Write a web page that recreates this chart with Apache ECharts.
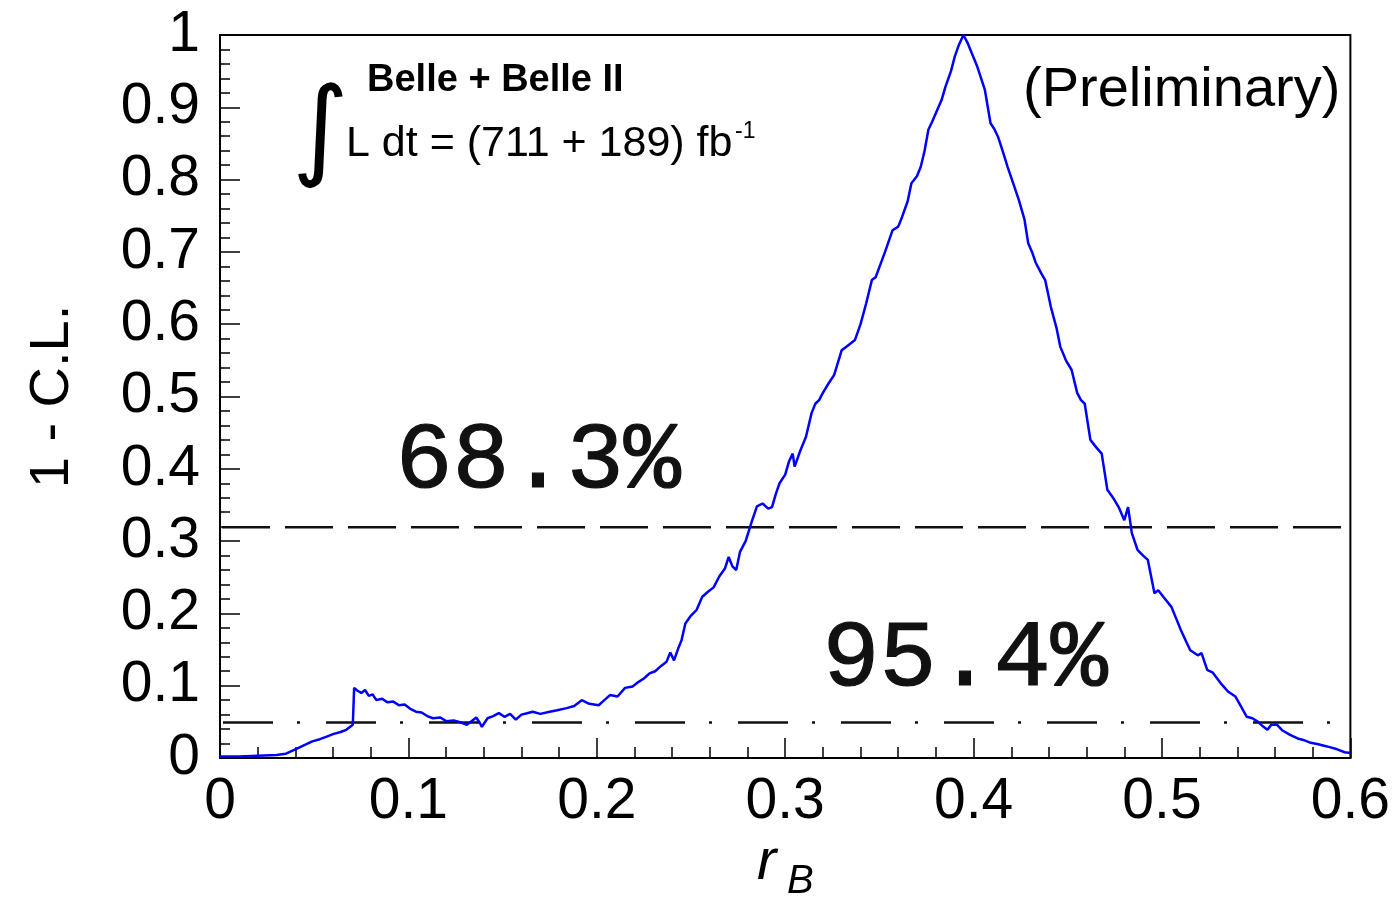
<!DOCTYPE html>
<html>
<head>
<meta charset="utf-8">
<script src="https://cdn.jsdelivr.net/npm/echarts@6/dist/echarts.min.js"></script>
<style>
  html, body { margin: 0; padding: 0; background: #fff; }
  #chart { width: 1393px; height: 902px; }
</style>
</head>
<body>
<div id="chart"></div>
<script>
// r_B scan points and the 1 - C.L. value at each of them
const rB = [
  0.000, 0.010, 0.020, 0.030, 0.035, 0.040, 0.045, 0.049, 0.053, 0.057,
  0.060, 0.064, 0.067, 0.0705, 0.0712, 0.073, 0.075, 0.077, 0.079, 0.081,
  0.083, 0.086, 0.089, 0.092, 0.095, 0.098, 0.101, 0.104, 0.107, 0.110,
  0.113, 0.117, 0.120, 0.124, 0.127, 0.131, 0.134, 0.136, 0.138, 0.139,
  0.142, 0.145, 0.148, 0.151, 0.154, 0.157, 0.160, 0.163, 0.166, 0.170,
  0.175, 0.179, 0.184, 0.188, 0.192, 0.196, 0.201, 0.204, 0.207, 0.211,
  0.215, 0.219, 0.222, 0.225, 0.228, 0.231, 0.234, 0.237, 0.239, 0.241,
  0.243, 0.245, 0.247, 0.250, 0.253, 0.256, 0.259, 0.262, 0.265, 0.268,
  0.270, 0.272, 0.274, 0.276, 0.279, 0.282, 0.285, 0.288, 0.291, 0.293,
  0.295, 0.297, 0.300, 0.302, 0.304, 0.305, 0.308, 0.311, 0.314, 0.316,
  0.318, 0.320, 0.323, 0.326, 0.330, 0.333, 0.337, 0.340, 0.343, 0.346,
  0.348, 0.350, 0.353, 0.357, 0.360, 0.362, 0.365, 0.367, 0.370, 0.372,
  0.374, 0.376, 0.378, 0.380, 0.383, 0.385, 0.388, 0.390, 0.392, 0.3946,
  0.397, 0.399, 0.402, 0.404, 0.406, 0.409, 0.411, 0.413, 0.416, 0.418,
  0.421, 0.424, 0.427, 0.429, 0.431, 0.433, 0.436, 0.438, 0.441, 0.444,
  0.446, 0.449, 0.452, 0.455, 0.457, 0.459, 0.462, 0.465, 0.468, 0.471,
  0.474, 0.477, 0.480, 0.482, 0.484, 0.487, 0.490, 0.4925, 0.496, 0.498,
  0.501, 0.505, 0.508, 0.510, 0.513, 0.515, 0.519, 0.521, 0.524, 0.527,
  0.531, 0.535, 0.539, 0.542, 0.545, 0.548, 0.551, 0.553, 0.556, 0.558,
  0.561, 0.564, 0.568, 0.572, 0.575, 0.579, 0.583, 0.586, 0.589, 0.593,
  0.597, 0.600
];
const oneMinusCL = [
  0.002, 0.002, 0.003, 0.004, 0.006, 0.012, 0.018, 0.023, 0.026, 0.030,
  0.033, 0.036, 0.039, 0.046, 0.097, 0.093, 0.090, 0.094, 0.086, 0.088,
  0.080, 0.082, 0.077, 0.078, 0.073, 0.074, 0.068, 0.064, 0.063, 0.058,
  0.055, 0.056, 0.051, 0.052, 0.050, 0.046, 0.052, 0.056, 0.048, 0.043,
  0.055, 0.058, 0.062, 0.057, 0.061, 0.053, 0.060, 0.062, 0.064, 0.061,
  0.064, 0.066, 0.069, 0.072, 0.080, 0.075, 0.073, 0.080, 0.087, 0.085,
  0.097, 0.099, 0.105, 0.110, 0.117, 0.120, 0.127, 0.133, 0.146, 0.135,
  0.150, 0.163, 0.186, 0.197, 0.205, 0.223, 0.230, 0.236, 0.251, 0.262,
  0.278, 0.265, 0.260, 0.285, 0.300, 0.325, 0.348, 0.352, 0.345, 0.347,
  0.365, 0.380, 0.392, 0.410, 0.421, 0.403, 0.425, 0.444, 0.477, 0.490,
  0.495, 0.505, 0.518, 0.530, 0.564, 0.570, 0.578, 0.600, 0.629, 0.661,
  0.665, 0.679, 0.700, 0.730, 0.735, 0.748, 0.770, 0.795, 0.805, 0.818,
  0.840, 0.869, 0.880, 0.892, 0.910, 0.928, 0.950, 0.970, 0.985, 1.000,
  0.988, 0.975, 0.956, 0.940, 0.924, 0.878, 0.870, 0.859, 0.835, 0.818,
  0.795, 0.772, 0.745, 0.712, 0.700, 0.685, 0.670, 0.661, 0.624, 0.595,
  0.569, 0.550, 0.537, 0.505, 0.495, 0.490, 0.440, 0.430, 0.421, 0.371,
  0.360, 0.347, 0.329, 0.347, 0.311, 0.288, 0.280, 0.274, 0.228, 0.232,
  0.222, 0.209, 0.190, 0.177, 0.160, 0.149, 0.142, 0.145, 0.122, 0.118,
  0.104, 0.092, 0.085, 0.071, 0.057, 0.055, 0.050, 0.045, 0.039, 0.046,
  0.046, 0.038, 0.032, 0.027, 0.025, 0.021, 0.019, 0.017, 0.015, 0.012,
  0.008, 0.007
];

// confidence-level reference lines (1 - C.L.) and their labels
const levelValues = [0.319, 0.049];
const levelLabels = ['68.3%', '95.4%'];

// axis tick labels
const xTicks = ['0', '0.1', '0.2', '0.3', '0.4', '0.5', '0.6'];
const yTicks = ['0', '0.1', '0.2', '0.3', '0.4', '0.5', '0.6', '0.7', '0.8', '0.9', '1'];

const SANS = '"Liberation Sans", Arial, Helvetica, sans-serif';
const MONO = '"Liberation Mono", "Courier New", monospace';

const curve = rB.map((x, i) => [x, oneMinusCL[i]]);
const fmt = (arr) => (v) => {
  const s = arr.find((t) => Math.abs(parseFloat(t) - v) < 1e-9);
  return s === undefined ? '' : s;
};

const chart = echarts.init(document.getElementById('chart'), null, { renderer: 'canvas' });

const option = {
  backgroundColor: '#ffffff',
  animation: false,
  grid: {
    left: 220, right: 39, top: 35, bottom: 144,
    show: true, borderColor: '#000', borderWidth: 2, backgroundColor: 'transparent'
  },
  xAxis: {
    type: 'value', min: 0, max: 0.6, interval: 0.1,
    axisLine: { show: true, onZero: false, lineStyle: { color: '#000', width: 2 } },
    axisTick: { show: true, inside: true, length: 20, lineStyle: { color: '#000', width: 1.5 } },
    minorTick: { show: true, splitNumber: 5, length: 11, lineStyle: { color: '#000', width: 1.5 } },
    splitLine: { show: false },
    axisLabel: {
      fontFamily: SANS, fontSize: 57, color: '#000', margin: 16,
      formatter: fmt(xTicks)
    }
  },
  yAxis: {
    type: 'value', min: 0, max: 1, interval: 0.1,
    name: '1 - C.L.', nameLocation: 'middle', nameRotate: 90, nameGap: 139,
    nameTextStyle: { fontFamily: SANS, fontSize: 56, color: '#000' },
    axisLine: { show: true, onZero: false, lineStyle: { color: '#000', width: 2 } },
    axisTick: { show: true, inside: true, length: 20, lineStyle: { color: '#000', width: 1.5 } },
    minorTick: { show: true, splitNumber: 5, length: 10, lineStyle: { color: '#000', width: 1.5 } },
    splitLine: { show: false },
    axisLabel: {
      fontFamily: SANS, fontSize: 57, color: '#000', margin: 20,
      formatter: fmt(yTicks)
    }
  },
  series: [
    {
      name: '68.3%', type: 'line', symbol: 'none', silent: true,
      data: [[0, levelValues[0]], [0.6, levelValues[0]]],
      lineStyle: { color: '#111', width: 2.5, type: [48, 15], dashOffset: -2 },
      z: 2
    },
    {
      name: '95.4%', type: 'line', symbol: 'none', silent: true,
      data: [[0, levelValues[1]], [0.6, levelValues[1]]],
      lineStyle: { color: '#111', width: 2.5, type: [50, 24, 3, 26], dashOffset: -3 },
      z: 2
    },
    {
      name: 'scan', type: 'line', symbol: 'none', silent: true,
      data: curve,
      lineStyle: { color: '#0000ff', width: 2.5 },
      z: 3
    }
  ],
  graphic: [
    {
      type: 'text', left: 367, top: 62,
      style: { text: 'Belle + Belle II', font: 'bold 38px ' + SANS, fill: '#000' }
    },
    {
      type: 'text', left: 292, top: 82,
      style: { text: '\u222B', font: '109px "DejaVu Sans"', fill: '#000' }
    },
    {
      type: 'text', left: 346, top: 123,
      style: { text: 'L dt = (711 + 189) fb', font: '43px ' + SANS, fill: '#000' }
    },
    {
      type: 'text', left: 735, top: 120,
      style: { text: '-1', font: '23px ' + SANS, fill: '#000' }
    },
    {
      type: 'text', left: 1023, top: 63,
      style: { text: '(Preliminary)', font: '56px ' + SANS, fill: '#000' }
    },
    {
      type: 'text', left: 395, top: 414,
      style: { text: levelLabels[0], font: '95px ' + MONO, fill: '#111', stroke: '#111', lineWidth: 1.2 }
    },
    {
      type: 'text', left: 822, top: 612,
      style: { text: levelLabels[1], font: '95px ' + MONO, fill: '#111', stroke: '#111', lineWidth: 1.2 }
    },
    {
      type: 'text', left: 757, top: 834,
      style: { text: 'r', font: 'italic 58px ' + SANS, fill: '#000' }
    },
    {
      type: 'text', left: 787, top: 862,
      style: { text: 'B', font: 'italic 40px ' + SANS, fill: '#000' }
    }
  ]
};

chart.setOption(option);
</script>
</body>
</html>
